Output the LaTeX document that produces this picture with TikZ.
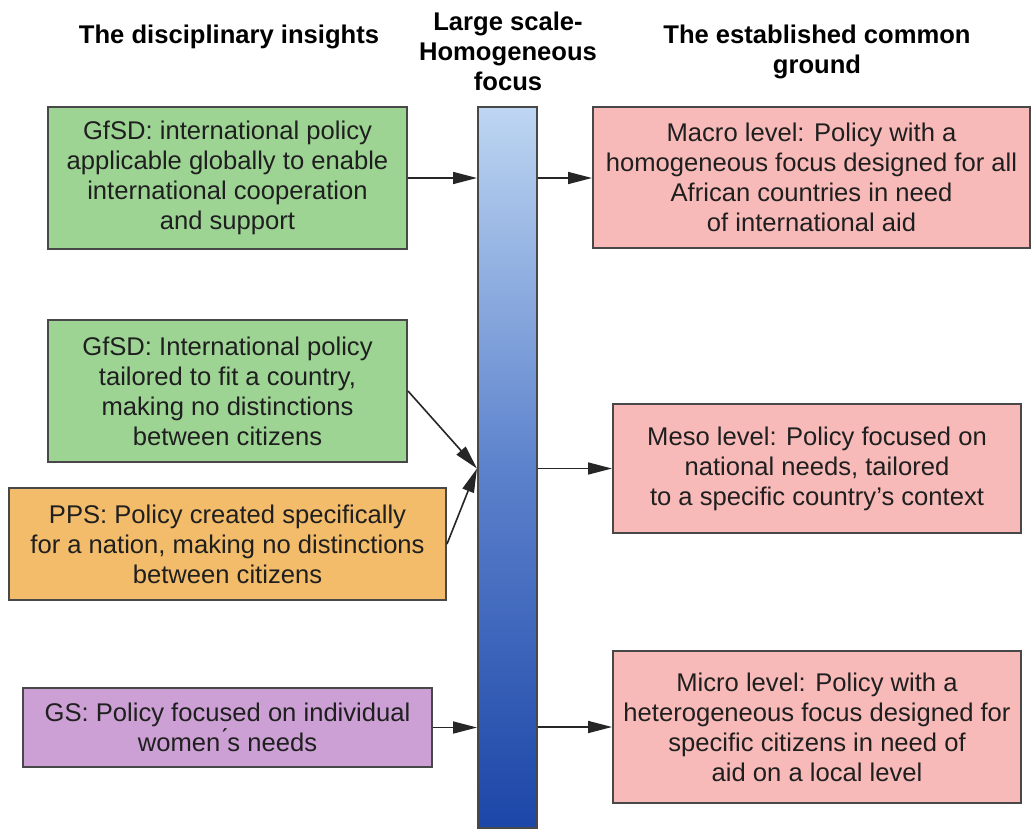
\documentclass[tikz,border=0pt]{standalone}
\usepackage{fontspec}
\setmainfont{Liberation Sans}
\usetikzlibrary{arrows.meta}
\definecolor{boxgreen}{RGB}{157,212,148}
\definecolor{boxorange}{RGB}{242,188,106}
\definecolor{boxpurple}{RGB}{204,160,212}
\definecolor{boxpink}{RGB}{248,186,184}
\definecolor{bartop}{RGB}{190,214,242}
\definecolor{barmid}{RGB}{92,130,204}
\definecolor{barbot}{RGB}{28,70,168}
\definecolor{edge}{RGB}{72,72,72}
\begin{document}
\begin{tikzpicture}[x=0.5pt,y=-0.5pt,
  txt/.style={font=\fontsize{12.8}{15}\selectfont, align=center, inner sep=0pt},
  head/.style={txt, font=\fontsize{12.8}{15}\selectfont\bfseries},
  card/.style={txt, draw=edge, line width=1pt, text=black!88, rectangle},
  arr/.style={draw=black!85, line width=0.8pt, -{Triangle[length=12pt,width=6pt]}}]
  \useasboundingbox (0,0) rectangle (1032,830);
  \fill[white] (0,0) rectangle (1032,830);

  % column headings
  \node[head] (h1) at (229,37) {The disciplinary insights};
  \node[head] (h2) at (508,51) {Large scale-\\Homogeneous\\focus};
  \node[head] (h3) at (817,52) {The established common\\ground};

  % central scale bar
  \node[draw=edge, line width=1pt, minimum width=29.5pt, minimum height=360.5pt,
        inner sep=0pt, top color=bartop, bottom color=barbot, middle color=barmid]
        (bar) at (507.5,467.5) {};

  % disciplinary insights
  \node[card, fill=boxgreen, minimum width=179.5pt, minimum height=71pt] (g1) at (227.5,178)
    {GfSD: international policy\\applicable globally to enable\\international cooperation\\and support};
  \node[card, fill=boxgreen, minimum width=179.5pt, minimum height=71pt] (g2) at (227.5,391)
    {GfSD: International policy\\tailored to fit a country,\\making no distinctions\\between citizens};
  \node[card, fill=boxorange, minimum width=218.5pt, minimum height=56pt] (pps) at (227.5,544)
    {PPS: Policy created specifically\\for a nation, making no distinctions\\between citizens};
  \node[card, fill=boxpurple, minimum width=204.5pt, minimum height=39.5pt] (gs) at (227.5,727.5)
    {GS: Policy focused on individual\\women\'{}s needs};

  % common ground
  \node[card, fill=boxpink, minimum width=218.5pt, minimum height=70.5pt] (macro) at (811.5,177.5)
    {Macro level: Policy with a\\homogeneous focus designed for all\\African countries in need\\of international aid};
  \node[card, fill=boxpink, minimum width=204pt, minimum height=64.5pt] (meso) at (817,468.5)
    {Meso level: Policy focused on\\national needs, tailored\\to a specific country's context};
  \node[card, fill=boxpink, minimum width=204pt, minimum height=76pt] (micro) at (817,727)
    {Micro level: Policy with a\\heterogeneous focus designed for\\specific citizens in need of\\aid on a local level};

  % connectors
  \coordinate (conv) at (bar.west |- meso.west);
  \draw[arr] (g1.east) -- (g1.east -| bar.west);
  \draw[arr] (g2.east) -- (conv);
  \draw[arr] (pps.east) -- (conv);
  \draw[arr] (gs.east) -- (gs.east -| bar.west);
  \draw[arr] (bar.east |- g1.east) -- (g1.east -| macro.west);
  \draw[arr] (bar.east |- meso.west) -- (meso.west);
  \draw[arr] (bar.east |- micro.west) -- (micro.west);
\end{tikzpicture}
\end{document}
